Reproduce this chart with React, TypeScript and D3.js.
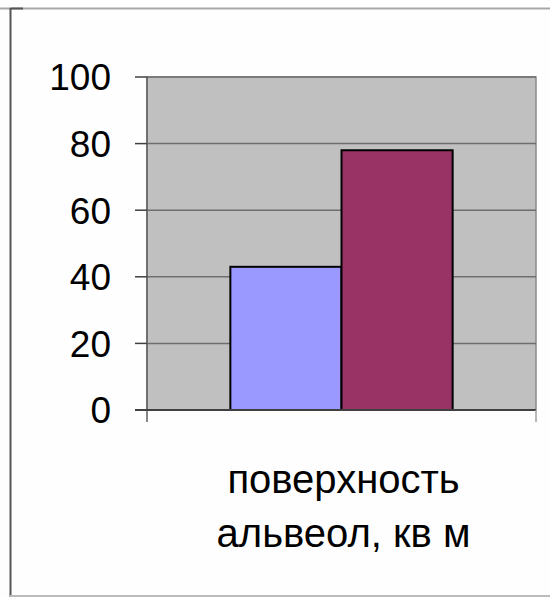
import React from "react";
import * as d3 from "d3";

// Series values for the single category
const seriesNames = ["ряд 1", "ряд 2"];
const seriesValues = [43, 78];
const seriesColors = ["#9999FF", "#993366"];
const yTicks = [0, 20, 40, 60, 80, 100];
const categoryLines = ["поверхность", "альвеол, кв м"];

const W = 550;
const H = 597;

export default function App() {
  const plot = { left: 147, right: 536, top: 77, bottom: 410 };

  const y = d3.scaleLinear().domain([0, 100]).range([plot.bottom, plot.top]);
  const catWidth = plot.right - plot.left;
  // Excel-style gap width of 150%
  const barW = catWidth / (seriesValues.length + 1.5);
  const x = d3
    .scaleBand<string>()
    .domain(seriesNames)
    .range([plot.left + (catWidth - barW * seriesValues.length) / 2, plot.left + (catWidth + barW * seriesValues.length) / 2])
    .padding(0);

  const font = "Arial, 'Liberation Sans', sans-serif";
  const cx = (plot.left + plot.right) / 2 + 2;

  return (
    <svg
      width={W}
      height={H}
      style={{ position: "absolute", left: 0, top: 0, background: "#fefefe" }}
    >
      {/* frame */}
      <line x1={0} x2={W} y1={8.5} y2={8.5} stroke="#a8a8a8" strokeWidth={2} />
      <line x1={10.5} x2={23} y1={8.5} y2={8.5} stroke="#555" strokeWidth={2} />
      <line x1={10.5} x2={10.5} y1={8} y2={H} stroke="#555" strokeWidth={2} />
      <line x1={10} x2={W} y1={596} y2={596} stroke="#bbb" strokeWidth={2} />

      {/* plot background */}
      <rect
        x={plot.left}
        y={plot.top}
        width={plot.right - plot.left}
        height={plot.bottom - plot.top}
        fill="#C0C0C0"
        stroke="#8a8a8a"
        strokeWidth={1.5}
      />

      {/* gridlines */}
      {yTicks.slice(1).map((t) => (
        <line
          key={"g" + t}
          x1={plot.left}
          x2={plot.right}
          y1={y(t)}
          y2={y(t)}
          stroke="#6e6e6e"
          strokeWidth={1.5}
        />
      ))}

      {/* bars */}
      {seriesValues.map((v, i) => (
        <rect
          key={seriesNames[i]}
          x={x(seriesNames[i])}
          y={y(v)}
          width={x.bandwidth()}
          height={y(0) - y(v)}
          fill={seriesColors[i]}
          stroke="#000"
          strokeWidth={2}
        />
      ))}

      {/* y axis */}
      <line x1={plot.left} x2={plot.left} y1={plot.top} y2={plot.bottom + 12} stroke="#606060" strokeWidth={1.5} />
      {yTicks.map((t) => (
        <g key={"t" + t}>
          <line x1={plot.left - 12} x2={plot.left} y1={y(t)} y2={y(t)} stroke="#404040" strokeWidth={1.5} />
          <text
            x={111}
            y={y(t)}
            dy="0.36em"
            textAnchor="end"
            fontFamily={font}
            fontSize={37}
            fill="#000"
          >
            {t}
          </text>
        </g>
      ))}

      {/* x axis */}
      <line x1={plot.left - 12} x2={plot.right} y1={plot.bottom} y2={plot.bottom} stroke="#404040" strokeWidth={2} />
      <line x1={plot.right} x2={plot.right} y1={plot.bottom} y2={plot.bottom + 12} stroke="#a0a0a0" strokeWidth={1.5} />

      {/* category label */}
      {categoryLines.map((l, i) => (
        <text
          key={l}
          x={cx}
          y={493 + i * 54}
          textAnchor="middle"
          fontFamily={font}
          fontSize={40}
          fill="#000"
          style={{ whiteSpace: "pre" }}
        >
          {l}
        </text>
      ))}
    </svg>
  );
}
